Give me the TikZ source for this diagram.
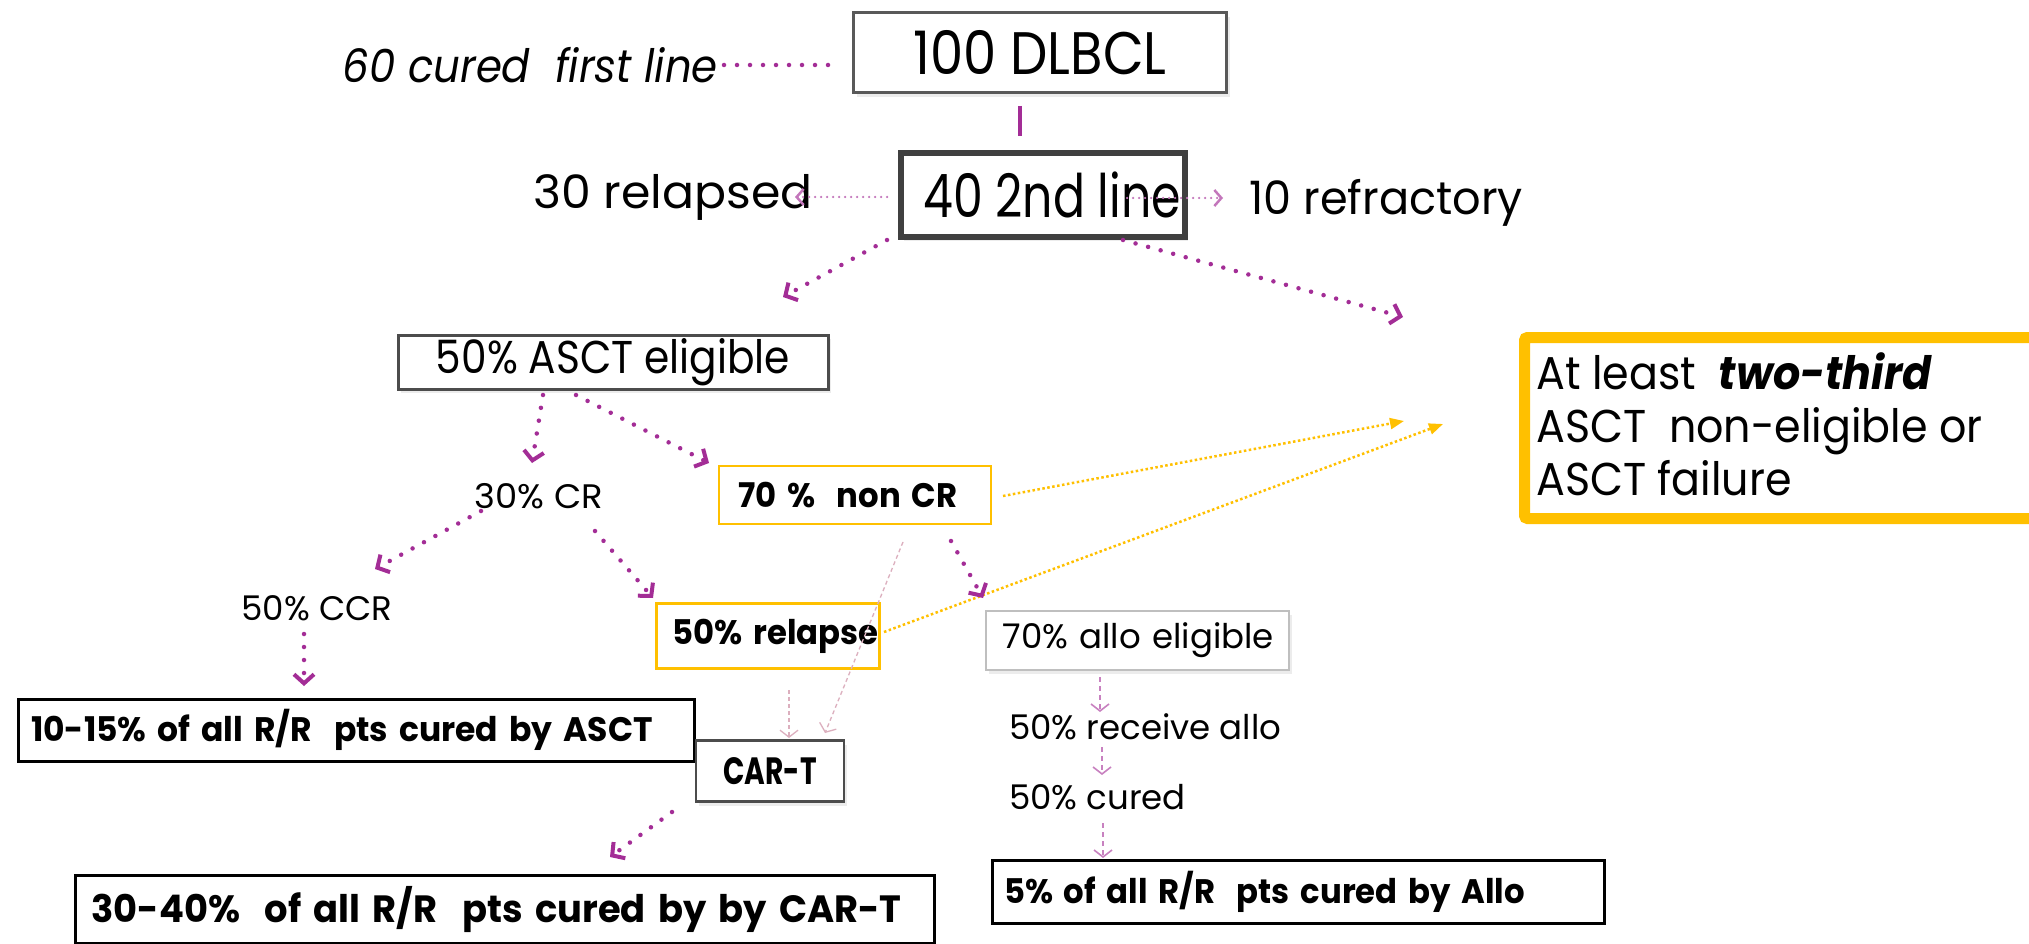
\documentclass[tikz,border=0pt]{standalone}
\usepackage{fontspec}
\setmainfont{Poppins}
\usepackage{graphicx}
\usetikzlibrary{arrows.meta,shadows}
\definecolor{mag}{RGB}{163,45,150}
\definecolor{gold}{RGB}{255,192,0}
\definecolor{pinkl}{RGB}{220,175,190}
\def\sqf{0.85}
\newcommand{\sq}[2][\sqf]{\scalebox{#1}[1]{#2}}
\tikzset{
  bigtxt/.style={font=\fontsize{60}{64}\selectfont},
  midtxt/.style={font=\fontsize{46}{53}\selectfont},
  smltxt/.style={font=\fontsize{34}{38}\selectfont},
  bx/.style={rectangle, inner ysep=1pt},
  shd/.style={drop shadow={opacity=0.15,shadow xshift=3pt,shadow yshift=-4pt}},
  magdot/.style={draw=mag, line width=4.5pt, line cap=round, dash pattern=on 0pt off 13pt,
     -{Straight Barb[length=9pt,width=20pt,line width=4pt]}},
  lightdot/.style={draw=mag!65, line width=2.5pt, line cap=round, dash pattern=on 0pt off 6pt,
     -{Straight Barb[length=7pt,width=16pt,line width=2.5pt]}},
  ydot/.style={draw=gold, line width=2.5pt, dash pattern=on 2.5pt off 2.5pt,
     -{Triangle[length=14pt,width=11pt]}},
  thinarr/.style={draw=mag!60, line width=1.6pt, dash pattern=on 5pt off 4pt,
     -{Straight Barb[length=7pt,width=18pt,line width=1.6pt]}},
  pinkarr/.style={draw=pinkl, line width=1.3pt, dash pattern=on 4pt off 3pt,
     -{Straight Barb[length=7pt,width=18pt,line width=1.3pt]}},
}
\begin{document}
\begin{tikzpicture}[x=1pt,y=-1pt]
\useasboundingbox (0,0) rectangle (2029,944);
\fill[white] (0,0) rectangle (2029,944);
\clip (0,0) rectangle (2029,944);

% nodes
\node[midtxt, anchor=east, inner sep=0] (cured) at (718,65) {\sq[0.91]{\itshape 60 cured\ \ first line}};
\node[bx, shd, fill=white, draw=black!65, line width=3pt, minimum width=373, minimum height=80, bigtxt] (dlbcl) at (1040,53) {\sq[0.88]{100 DLBCL}};
\node[bx, shd, fill=white, draw=black!75, line width=5.5pt, minimum width=282, minimum height=84, bigtxt, inner xsep=4pt] (second) at (1043,195) {\hspace*{18pt}\sq[0.79]{40 2nd line}};
\node[midtxt, anchor=east, inner sep=0] (relapsed) at (813,197) {\sq[1.03]{30 relapsed}};
\node[midtxt, anchor=west, inner sep=0] (refr) at (1249,203) {\sq[0.97]{10 refractory}};
\node[bx, shd, fill=white, draw=black!70, line width=3pt, minimum width=430, minimum height=54, midtxt] (asct) at (613,362) {\sq[0.885]{50\% ASCT eligible}};

\node[draw=gold, line width=11pt, rounded corners=3pt, minimum width=541, minimum height=181, anchor=north west, inner sep=0] (third) at (1519,332) {};
\node[midtxt, anchor=west, align=left, inner sep=0] (thirdtxt) at (1536,424) {\sq[0.93]{At least\ \ \textbf{\textit{two-third}}}\\ \sq[0.93]{ASCT\ \ non-eligible or}\\ \sq[0.93]{ASCT failure}};

\node[smltxt, inner sep=0] (cr) at (539,496) {\sq[1.04]{30\% CR}};
\node[bx, fill=white, draw=gold, line width=2.5pt, text width=234pt, inner xsep=19pt, align=left, minimum height=58, smltxt] (noncr) at (855,495) {\sq[0.95]{\bfseries 70 \%\ \ non CR}};
\node[smltxt, inner sep=0] (ccr) at (317,608) {\sq[1.0]{50\% CCR}};
\node[bx, fill=white, draw=gold, line width=2.5pt, text width=191pt, inner xsep=16pt, align=left, minimum height=65, smltxt] (relapse) at (768,636) {\sq[0.95]{\bfseries 50\% relapse}};
\node[bx, shd, fill=white, draw=black!25, line width=2pt, text width=269pt, inner xsep=17pt, align=left, minimum height=59, smltxt] (allo) at (1137,640) {\sq[1.0]{70\% allo eligible}};
\node[bx, fill=white, draw=black, line width=3pt, text width=650pt, inner xsep=13pt, align=left, minimum height=62, smltxt] (asctcure) at (356,730) {\sq[0.97]{\bfseries 10-15\% of all R/R\ \ pts cured by ASCT}};
\node[bx, shd, fill=white, draw=black!70, line width=2.5pt, minimum width=148, minimum height=61, font=\fontsize{38}{42}\selectfont] (cart) at (770,771) {\sq[0.74]{\bfseries CAR-T}};
\node[bx, fill=white, draw=black, line width=3pt, text width=827pt, inner xsep=16pt, align=left, minimum height=68, font=\fontsize{38}{42}\selectfont] (cartcure) at (505,909) {\sq[0.97]{\bfseries 30-40\%\ \ of all R/R\ \ pts cured by by CAR-T}};
\node[smltxt, anchor=west, inner sep=0] (receive) at (1009,727) {\sq[1.0]{50\% receive allo}};
\node[smltxt, anchor=west, inner sep=0] (curedb) at (1009,797) {\sq[1.0]{50\% cured}};
\node[bx, fill=white, draw=black, line width=3pt, text width=588pt, inner xsep=12pt, align=left, minimum height=63, smltxt] (allocure) at (1298,892) {\sq[0.95]{\bfseries 5\% of all R/R\ \ pts cured by Allo}};

\coordinate (t0) at (1403,317);
\coordinate (t1) at (1404,421);
\coordinate (t2) at (1443,424);

% connectors
\draw[draw=mag, line width=4.5pt, line cap=round, dash pattern=on 0pt off 13pt]
  ([shift={(6,0)}]cured.east) -- ([shift={(-199,12)}]dlbcl.center);
\draw[mag, line width=4pt] ([shift={(-20,53)}]dlbcl.center) -- ([shift={(-23,-59)}]second.center);
\draw[lightdot] ([shift={(-156,2)}]second.center) -- ([shift={(-18,0)}]relapsed.east);
\draw[lightdot] ([shift={(84,3)}]second.center) -- ([shift={(-26,-5)}]refr.west);
\draw[magdot] ([shift={(-156,45)}]second.center) -- ([shift={(170,-65)}]asct.center);
\draw[magdot] ([shift={(80,45)}]second.center) -- (t0);
\draw[magdot] ([shift={(-70,33)}]asct.center) -- ([shift={(-7,-33)}]cr.center);
\draw[magdot] ([shift={(-37,33)}]asct.center) -- ([shift={(-146,-32)}]noncr.center);
\draw[ydot] ([shift={(148,1)}]noncr.center) -- (t1);
\draw[ydot] ([shift={(116,-4)}]relapse.center) -- (t2);
\draw[magdot] ([shift={(-58,15)}]cr.center) -- ([shift={(58,-39)}]ccr.center);
\draw[magdot] ([shift={(56,35)}]cr.center) -- ([shift={(-115,-38)}]relapse.center);
\draw[magdot] ([shift={(96,46)}]noncr.center) -- ([shift={(-154,-42)}]allo.center);
\draw[magdot] ([shift={(-13,26)}]ccr.center) -- ([shift={(-52,-44)}]asctcure.center);
\draw[pinkarr] ([shift={(21,54)}]relapse.center) -- ([shift={(19,-33)}]cart.center);
\draw[pinkarr] ([shift={(48,47)}]noncr.center) -- ([shift={(55,-38)}]cart.center);
\draw[magdot] ([shift={(-98,41)}]cart.center) -- ([shift={(105,-52)}]cartcure.center);
\draw[thinarr] ([shift={(-37,37)}]allo.center) -- ([shift={(91,-15)}]receive.west);
\draw[thinarr] ([shift={(93,20)}]receive.west) -- ([shift={(93,-22)}]curedb.west);
\draw[thinarr] ([shift={(94,26)}]curedb.west) -- ([shift={(-195,-34)}]allocure.center);
\end{tikzpicture}
\end{document}
